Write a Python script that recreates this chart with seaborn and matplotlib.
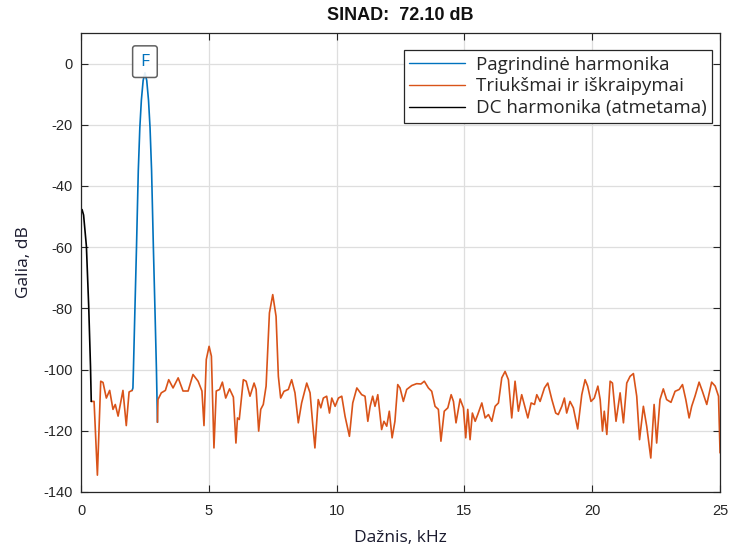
import numpy as np
import pandas as pd
import matplotlib
matplotlib.use("Agg")
import matplotlib.pyplot as plt
from matplotlib.lines import Line2D
import seaborn as sns

# Spectrum traces (frequency in kHz, power in dB)
dc_freq = [0.0, 0.04, 0.10, 0.21, 0.30, 0.37, 0.40]
dc_db = [-49.0, -47.7, -49.5, -59.7, -79.3, -98.9, -110.4]

fund_freq = [2.00, 2.03, 2.05, 2.10, 2.17, 2.24, 2.30, 2.36, 2.43, 2.50,
             2.57, 2.64, 2.70, 2.76, 2.83, 2.90, 2.95, 2.99]
fund_db = [-106.8, -106.0, -100.0, -83.0, -60.0, -35.0, -21.0, -12.0, -5.5, -3.0,
           -5.5, -12.0, -21.0, -35.0, -60.0, -83.0, -100.0, -117.2]

noise_lo_freq = [0.40, 0.51, 0.64, 0.77, 0.86, 0.99, 1.12, 1.25, 1.34, 1.45, 1.64, 1.77, 1.88, 2.00]
noise_lo_db = [-110.4, -110.4, -134.5, -103.8, -104.2, -109.3, -106.8, -113.0, -111.4, -115.2, -106.8, -118.3, -107.3, -106.8]

noise_hi_freq = [
    2.99, 3.01, 3.14, 3.30, 3.43, 3.60, 3.80, 3.99, 4.19, 4.38, 4.58, 4.73, 4.81, 4.90,
    5.01, 5.10, 5.20, 5.29, 5.42, 5.53, 5.66, 5.81, 5.96, 6.06, 6.12, 6.19, 6.35, 6.46,
    6.61, 6.77, 6.85, 6.95, 7.03, 7.13, 7.24, 7.37, 7.50, 7.63, 7.72, 7.81, 7.94, 8.11,
    8.24, 8.37, 8.50, 8.63, 8.83, 8.96, 9.06, 9.15, 9.28, 9.38, 9.48, 9.61, 9.72, 9.81,
    9.94, 10.07, 10.20, 10.33, 10.50, 10.63, 10.79, 10.98, 11.11, 11.22, 11.31, 11.41,
    11.50, 11.61, 11.76, 11.85, 11.96, 12.06, 12.17, 12.28, 12.39, 12.48, 12.61, 12.74,
    12.94, 13.13, 13.30, 13.43, 13.59, 13.72, 13.85, 13.98, 14.08, 14.21, 14.35, 14.48,
    14.57, 14.67, 14.83, 14.96, 15.05, 15.13, 15.22, 15.31, 15.42, 15.52, 15.68, 15.81,
    15.94, 16.07, 16.20, 16.33, 16.46, 16.59, 16.72, 16.85, 16.98, 17.11, 17.24, 17.36,
    17.48, 17.61, 17.74, 17.83, 17.96, 18.13, 18.26, 18.42, 18.57, 18.67, 18.81, 18.91,
    19.00, 19.13, 19.26, 19.43, 19.59, 19.72, 19.82, 19.95, 20.08, 20.22, 20.31, 20.40,
    20.47, 20.57, 20.70, 20.79, 20.93, 21.09, 21.22, 21.35, 21.48, 21.61, 21.74, 21.85,
    22.00, 22.13, 22.29, 22.42, 22.52, 22.65, 22.78, 22.91, 23.08, 23.24, 23.40, 23.53,
    23.66, 23.79, 23.89, 24.02, 24.18, 24.31, 24.48, 24.67, 24.81, 24.94, 25.00,
]
noise_hi_db = [
    -117.2, -109.8, -107.6, -106.8, -103.3, -106.0, -102.7, -107.0, -107.0, -101.6, -103.8, -107.0, -118.3, -96.7,
    -92.4, -95.6, -125.6, -107.0, -106.5, -104.1, -109.3, -106.3, -109.0, -124.0, -115.8, -116.3, -103.3, -103.8,
    -108.7, -104.4, -106.5, -120.1, -113.0, -111.4, -105.4, -81.5, -75.5, -82.6, -102.2, -109.3, -107.1, -106.5,
    -103.3, -107.6, -117.4, -110.9, -104.4, -107.6, -117.4, -125.6, -109.8, -112.5, -109.3, -108.7, -114.2, -109.3,
    -112.0, -109.3, -108.7, -115.3, -121.8, -110.9, -106.0, -108.2, -108.7, -116.9, -112.0, -108.7,
    -112.0, -108.2, -119.6, -116.9, -118.5, -113.6, -122.3, -116.9, -104.9, -106.0, -110.4, -106.5,
    -105.2, -104.6, -104.7, -103.8, -106.0, -107.1, -112.0, -113.0, -123.4, -113.6, -112.5, -108.2,
    -110.4, -117.4, -109.6, -112.5, -122.3, -113.0, -122.9, -114.2, -116.9, -114.7, -110.9, -115.8,
    -114.7, -116.9, -112.0, -110.9, -102.7, -100.6, -103.3, -115.8, -103.8, -113.6, -108.2, -112.0,
    -115.8, -110.9, -111.4, -108.2, -110.4, -106.0, -104.4, -109.8, -114.2, -114.7, -112.0, -109.3,
    -114.2, -110.4, -112.5, -119.4, -108.2, -103.3, -105.4, -110.4, -109.3, -105.4, -109.8, -120.1,
    -113.6, -121.2, -103.8, -104.4, -116.9, -107.6, -117.4, -104.4, -102.2, -101.3, -108.7, -122.9,
    -112.0, -118.5, -128.9, -111.4, -124.0, -109.8, -106.3, -109.8, -110.7, -107.1, -106.5, -104.9,
    -109.8, -115.8, -112.0, -108.7, -104.1, -107.1, -111.4, -104.1, -105.4, -108.7, -127.2,
]

x_ticks = [0, 5, 10, 15, 20, 25]
y_ticks = [-140, -120, -100, -80, -60, -40, -20, 0]

label_fund = "Pagrindinė harmonika"
label_noise = "Triukšmai ir iškraipymai"
label_dc = "DC harmonika (atmetama)"
title_text = "SINAD:  72.10 dB"

c_blue = "#0072BD"
c_orange = "#D95319"
c_black = "#000000"

sns.set_theme(style="whitegrid")
plt.rcParams["font.family"] = ["Liberation Sans", "DejaVu Sans"]
label_font = ["Open Sans", "DejaVu Sans"]

noise_df = pd.DataFrame({
    "f": noise_lo_freq + noise_hi_freq,
    "p": noise_lo_db + noise_hi_db,
    "seg": [0] * len(noise_lo_freq) + [1] * len(noise_hi_freq),
})
fund_df = pd.DataFrame({"f": fund_freq, "p": fund_db})
dc_df = pd.DataFrame({"f": dc_freq, "p": dc_db})

fig = plt.figure(figsize=(7.34, 5.48), dpi=100)
ax = fig.add_axes([0.1104, 0.1022, 0.8706, 0.8376])

lw = 1.2
sns.lineplot(data=fund_df, x="f", y="p", color=c_blue, lw=lw, ax=ax,
             estimator=None, sort=False, legend=False)
sns.lineplot(data=noise_df, x="f", y="p", units="seg", color=c_orange, lw=lw, ax=ax,
             estimator=None, sort=False, legend=False)
sns.lineplot(data=dc_df, x="f", y="p", color=c_black, lw=lw, ax=ax,
             estimator=None, sort=False, legend=False)

# Fundamental marker
peak_i = int(np.argmax(fund_db))
ax.annotate("F", xy=(fund_freq[peak_i], fund_db[peak_i]), xytext=(0, 8),
            textcoords="offset points", ha="center", va="center",
            color=c_blue, fontsize=12.5, family=label_font,
            bbox=dict(boxstyle="round,pad=0.45,rounding_size=0.15", fc="white",
                      ec="#505050", lw=1.1, alpha=0.9))

ax.set_xlim(0, 25)
ax.set_ylim(-140, 10)
ax.set_xticks(x_ticks)
ax.set_yticks(y_ticks)
ax.set_xticklabels([str(t) for t in x_ticks])
ax.set_yticklabels([str(t) for t in y_ticks])

ax.grid(True, color="#dedede", lw=0.9)
ax.set_facecolor("white")
for s in ax.spines.values():
    s.set_visible(True)
    s.set_color("#262626")
    s.set_linewidth(0.9)
ax.tick_params(axis="both", direction="in", length=5, width=0.8, color="#262626",
               labelsize=10.5, labelcolor="#262626", top=True, right=True,
               bottom=True, left=True, pad=6)
ax.tick_params(axis="x", pad=9)

ax.set_xlabel("Dažnis, kHz", fontsize=12.5, family=label_font, color="#1a1a2e", labelpad=8)
ax.set_ylabel("Galia, dB", fontsize=12.5, family=label_font, color="#1a1a2e", labelpad=8)
ax.set_title(title_text, fontsize=13, fontweight="bold", color="#111111", pad=9)

handles = [Line2D([], [], color=c_blue, lw=1.0),
           Line2D([], [], color=c_orange, lw=1.0),
           Line2D([], [], color=c_black, lw=1.0)]
leg = ax.legend(handles, [label_fund, label_noise, label_dc],
                loc="upper right", frameon=True, fancybox=False,
                prop={"family": label_font, "size": 13.5},
                edgecolor="#262626", framealpha=1, borderpad=0.3,
                handlelength=3.0, handletextpad=0.55, labelspacing=0.2,
                borderaxespad=0.0, bbox_to_anchor=(0.9875, 0.963))
leg.get_frame().set_linewidth(0.9)

fig.savefig("out.png", dpi=100)
